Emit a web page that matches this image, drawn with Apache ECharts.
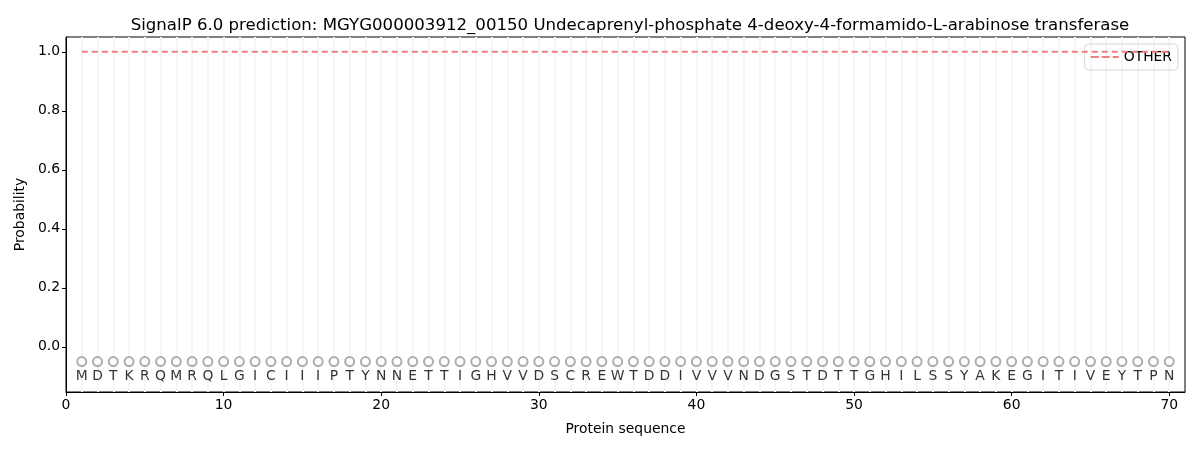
<!DOCTYPE html>
<html><head><meta charset="utf-8">
<script src="https://cdn.jsdelivr.net/npm/echarts@6/dist/echarts.min.js"></script>
<style>html,body{margin:0;padding:0;background:#fff}#c{width:1200px;height:450px}</style>
</head><body><div id="c"></div>
<script>
const titleText = 'SignalP 6.0 prediction: MGYG000003912_00150 Undecaprenyl-phosphate 4-deoxy-4-formamido-L-arabinose transferase';
const sequence = ['M','D','T','K','R','Q','M','R','Q','L','G','I','C','I','I','I','P','T','Y','N','N','E','T','T','I','G','H','V','V','D','S','C','R','E','W','T','D','D','I','V','V','V','N','D','G','S','T','D','T','T','G','H','I','L','S','S','Y','A','K','E','G','I','T','I','V','E','Y','T','P','N'];
const positions = sequence.map((_, i) => i + 1);
const otherProb = sequence.map(() => 1.0);
const markerY = -0.05;
const letterY = -0.1;
const xTicks = [0,10,20,30,40,50,60,70];
const yTicks = [0,0.2,0.4,0.6,0.8,1.0];

const font = 'DejaVu Sans';
const chart = echarts.init(document.getElementById('c'));
chart.setOption({
  animation: false,
  title: { text: titleText, left: 625, textAlign: 'center', top: 12, textStyle: { fontFamily: font, fontSize: 16.6, fontWeight: 'normal', color: '#000' } },
  legend: {
    right: 22, top: 44, itemWidth: 28, itemHeight: 2, itemGap: 10,
    data: [{ name: 'OTHER', icon: 'path://M0,0h8v2h-8z M11,0h8v2h-8z M22,0h6v2h-6z' }],
    borderColor: '#d5d5d5', borderWidth: 1, borderRadius: 4, padding: [6, 6, 6, 6],
    textStyle: { fontFamily: font, fontSize: 13.9, color: '#000' }
  },
  grid: { left: 66, right: 15, top: 37, bottom: 58, show: true, borderColor: '#000', borderWidth: 1, backgroundColor: 'transparent' },
  xAxis: {
    type: 'value', min: 0, max: 71,
    name: 'Protein sequence', nameLocation: 'middle', nameGap: 30,
    nameTextStyle: { fontFamily: font, fontSize: 13.9, color: '#000' },
    axisLine: { show: true, onZero: false, lineStyle: { color: '#000' } },
    axisTick: { show: true, customValues: xTicks, length: 4, lineStyle: { color: '#000' } },
    axisLabel: { customValues: xTicks, fontFamily: font, fontSize: 13.9, color: '#000', margin: 6 },
    splitLine: { show: false }
  },
  yAxis: {
    type: 'value', min: -0.153, max: 1.05,
    name: 'Probability', nameLocation: 'middle', nameGap: 36,
    nameTextStyle: { fontFamily: font, fontSize: 13.9, color: '#000' },
    axisLine: { show: true, onZero: false, lineStyle: { color: '#000' } },
    axisTick: { show: true, customValues: yTicks, length: 4, lineStyle: { color: '#000' } },
    axisLabel: { customValues: yTicks, fontFamily: font, fontSize: 13.9, color: '#000', margin: 6, formatter: v => v.toFixed(1) },
    splitLine: { show: false }
  },
  series: [
    {
      name: 'grid', type: 'line', data: [], silent: true, z: 0, zlevel: 0,
      markLine: {
        silent: true, symbol: 'none', label: { show: false }, z: 0,
        lineStyle: { color: '#f6f6f6', width: 2, type: 'solid' },
        data: positions.map(p => ({ xAxis: p }))
      }
    },
    {
      name: 'OTHER', type: 'line', symbol: 'none', z: 5,
      data: positions.map((p, i) => [p, otherProb[i]]),
      lineStyle: { color: '#f08080', width: 2, type: [6, 4] },
      itemStyle: { color: '#f08080' }
    },
    {
      name: 'markers', type: 'scatter', symbol: 'emptyCircle', symbolSize: 9, z: 5,
      data: positions.map(p => [p, markerY]),
      itemStyle: { color: '#999', borderColor: '#999', borderWidth: 0.9 }
    },
    {
      name: 'letters', type: 'scatter', symbolSize: 0, z: 6,
      data: positions.map((p, i) => ({ value: [p, letterY], name: sequence[i] })),
      label: { show: true, position: 'inside', formatter: d => d.name, fontFamily: font, fontSize: 13.9, color: '#000' }
    }
  ]
});
</script></body></html>
